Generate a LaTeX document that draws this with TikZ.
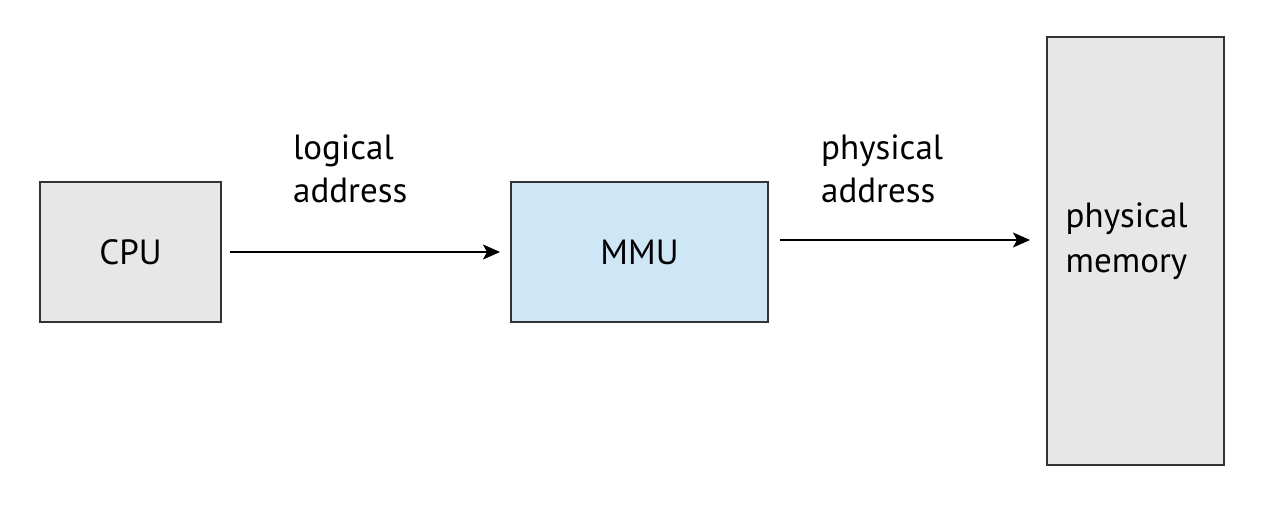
\documentclass[tikz,border=0pt]{standalone}
\usepackage{fontspec}
\setmainfont{PT Sans}
\usetikzlibrary{arrows.meta}
\definecolor{boxgray}{HTML}{E6E7E6}
\definecolor{boxblue}{HTML}{CDE7F7}
\definecolor{edge}{HTML}{333333}
\begin{document}
\begin{tikzpicture}[x=1pt, y=1pt,
  unit/.style={draw=edge, line width=2pt, inner sep=0pt,
    font=\fontsize{35}{44}\selectfont},
  lab/.style={font=\fontsize{35}{43}\selectfont, align=left,
    inner sep=0pt, anchor=west},
  arr/.style={line width=2pt, -{Stealth[length=17pt, width=15pt, inset=4pt]}}]
\useasboundingbox (0,0) rectangle (1282,506);
% ---------------- units ----------------
\node[unit, fill=boxgray, minimum width=181pt, minimum height=140pt]
  (cpu) at (130.5,254) {CPU};
\node[unit, fill=boxblue, minimum width=257pt, minimum height=140pt]
  (mmu) at (639.5,254) {MMU};
\node[unit, fill=boxgray, minimum width=177pt, minimum height=428pt]
  (mem) at (1135.5,255) {};
\node[lab, font=\fontsize{35}{45}\selectfont] (memlab)
  at ([xshift=-70pt, yshift=10pt]mem.center) {physical\\memory};
% ---------------- addresses ----------------
\draw[arr] ([xshift=8pt]cpu.east) -- ([xshift=-10pt]mmu.west);
\draw[arr] ([xshift=11pt, yshift=12pt]mmu.east)
  -- ([xshift=-16pt, yshift=12pt]mmu.east -| mem.west);
\node[lab] (logaddr) at (293,337) {logical\\address};
\node[lab] (phyaddr) at (821,337) {physical\\address};
\end{tikzpicture}
\end{document}
